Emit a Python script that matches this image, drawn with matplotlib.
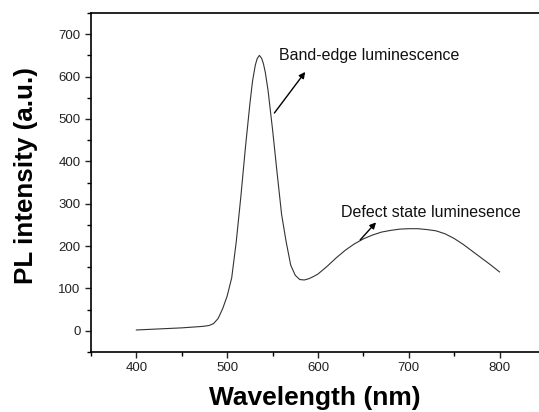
import matplotlib
matplotlib.use("Agg")
import matplotlib.pyplot as plt
from matplotlib.ticker import MultipleLocator

plt.rcParams['font.family'] = ['Liberation Sans', 'DejaVu Sans']

# PL spectrum
wavelength = [400, 410, 420, 430, 440, 450, 460, 470, 475, 480, 485, 490,
              495, 500, 505, 510, 515, 520, 525, 528, 531, 533, 535.5, 538,
              540, 542, 545, 550, 555, 560, 565, 570, 575, 580, 585, 590,
              595, 600, 610, 620, 630, 640, 650, 660, 670, 680, 690, 700,
              710, 720, 730, 740, 750, 760, 770, 780, 790, 800]
intensity = [2, 3, 4, 5, 6, 7, 8.5, 10, 11, 12.5, 17, 29,
             52, 82, 125, 210, 315, 430, 535, 590, 627, 642, 650, 643,
             630, 610, 568, 475, 373, 274, 210, 155, 131, 121, 120, 123,
             128, 134, 152, 172, 190, 205, 217, 226, 233, 237, 240, 241,
             241, 239, 236, 229, 218, 204, 188, 172, 156, 139]

fig = plt.figure(figsize=(5.39, 4.12), dpi=100)
ax = fig.add_axes([0.1688, 0.1456, 0.8312, 0.8228])
ax.plot(wavelength, intensity, color='#333333', lw=0.8)

ax.set_xlim(350, 843.5)
ax.set_ylim(-50, 750)
ax.xaxis.set_major_locator(MultipleLocator(100))
ax.xaxis.set_minor_locator(MultipleLocator(50))
ax.yaxis.set_major_locator(MultipleLocator(100))
ax.yaxis.set_minor_locator(MultipleLocator(50))
ax.tick_params(which='major', direction='out', length=4.5, width=1.0,
               labelsize=9.5, pad=3, colors='#222222')
ax.tick_params(which='minor', direction='out', length=3, width=1.0)
ax.spines['right'].set_visible(False)
for s in ['left', 'bottom', 'top']:
    ax.spines[s].set_linewidth(1.2)

ax.set_xlabel("Wavelength (nm)", fontsize=19, fontweight='bold', labelpad=8.5)
ax.set_ylabel("PL intensity (a.u.)", fontsize=18.7, fontweight='bold',
              labelpad=14.5)
ax.yaxis.label.set_y(0.52)

# annotations
ax.text(557, 650, "Band-edge luminescence", fontsize=11.5, va='center',
        color='#111111')
ax.annotate("", xy=(586, 611), xytext=(552, 514),
            arrowprops=dict(arrowstyle='-|>', color='black', lw=1.0,
                            mutation_scale=9, shrinkA=0, shrinkB=0))
ax.text(625.5, 280, "Defect state luminesence", fontsize=11.5, va='center',
        color='#111111')
ax.annotate("", xy=(664, 256), xytext=(646.5, 214.5),
            arrowprops=dict(arrowstyle='-|>', color='black', lw=1.0,
                            mutation_scale=9, shrinkA=0, shrinkB=0))

plt.savefig("out.png", dpi=100)
